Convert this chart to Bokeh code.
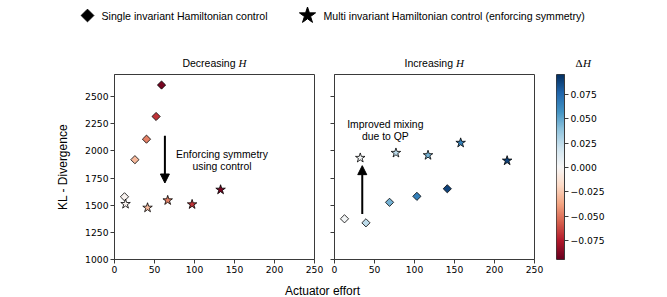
import numpy as np
from bokeh.plotting import figure
from bokeh.models import (Range1d, LinearColorMapper, FixedTicker, CustomJSTickFormatter,
                          Arrow, NormalHead, ColumnDataSource)
from bokeh.layouts import column, row
from bokeh.transform import transform
from bokeh.core.properties import value
from bokeh.embed import file_html
from bokeh.resources import INLINE

# ---------------- data ----------------
# Decreasing H panel
dec_single_effort = [12.5, 25.5, 40.0, 52.0, 58.8]
dec_single_kl = [1578, 1920, 2109, 2318, 2608]
dec_multi_effort = [13.8, 41.3, 66.5, 97.0, 132.6]
dec_multi_kl = [1511, 1477, 1545, 1508, 1643]
dec_dH = [-0.003, -0.030, -0.047, -0.068, -0.090]

# Increasing H panel
inc_single_effort = [12.5, 39.3, 68.8, 103.0, 141.0]
inc_single_kl = [1375, 1338, 1527, 1582, 1652]
inc_multi_effort = [32.2, 76.8, 116.9, 157.7, 215.8]
inc_multi_kl = [1936, 1982, 1961, 2075, 1911]
inc_dH = [0.003, 0.025, 0.045, 0.065, 0.088]

x_ticks = [0, 50, 100, 150, 200, 250]
y_ticks = [1000, 1250, 1500, 1750, 2000, 2250, 2500]
cbar_ticks = [-0.075, -0.050, -0.025, 0.0, 0.025, 0.050, 0.075]
X_RANGE = (0, 250)
Y_RANGE = (1000, 2705)
DH_RANGE = (-0.094, 0.095)

legend_labels = ["Single invariant Hamiltonian control",
                 "Multi invariant Hamiltonian control (enforcing symmetry)"]
x_label = "Actuator effort"
y_label = "KL - Divergence"

# annotation anchors (data coordinates)
dec_arrow = dict(x=63.0, y_start=2140, y_end=1705)
inc_arrow = dict(x=34.7, y_start=1419, y_end=1865)
dec_note = dict(x=134.4, lines=["Enforcing symmetry", "using control"], y=[1970, 1856])
inc_note = dict(x=63.5, lines=["Improved mixing", "due to QP"], y=[2248, 2133])

# ---------------- styling ----------------
RDBU = ['#67001f', '#b2182b', '#d6604d', '#f4a582', '#fddbc7', '#f7f7f7',
        '#d1e5f0', '#92c5de', '#4393c3', '#2166ac', '#053061']


def smooth_palette(colors, n=256):
    rgb = np.array([[int(c[i:i + 2], 16) for i in (1, 3, 5)] for c in colors], float)
    t = np.linspace(0, 1, len(colors))
    tt = np.linspace(0, 1, n)
    out = []
    for v in tt:
        r, g, b = (np.interp(v, t, rgb[:, k]) for k in range(3))
        out.append("#%02x%02x%02x" % (int(round(r)), int(round(g)), int(round(b))))
    return out


mapper = LinearColorMapper(palette=smooth_palette(RDBU), low=DH_RANGE[0], high=DH_RANGE[1])

SPINE = "#3a3a3a"
SANS = "Liberation Sans"
SERIF = "Liberation Serif"
TICK_FONT = "DejaVu Sans"
TICK_SIZE = "9.2px"


def style_axis(ax):
    ax.axis_line_color = SPINE
    ax.axis_line_width = 1
    ax.major_tick_line_color = SPINE
    ax.minor_tick_line_color = None
    ax.major_tick_out = 4
    ax.major_tick_in = 0
    ax.major_label_text_font = TICK_FONT
    ax.major_label_text_font_size = TICK_SIZE
    ax.major_label_text_color = "black"
    ax.major_label_standoff = 2


def panel(width, left, right, single_x, single_y, multi_x, multi_y, dH, show_labels):
    p = figure(width=width, height=206, x_range=Range1d(*X_RANGE), y_range=Range1d(*Y_RANGE),
               output_backend="svg", toolbar_location=None,
               min_border_left=left, min_border_right=right, min_border_top=4, min_border_bottom=17)
    p.grid.visible = False
    p.outline_line_color = SPINE
    p.outline_line_width = 1
    p.background_fill_color = "white"
    p.border_fill_color = "white"
    for ax in (p.xaxis[0], p.yaxis[0]):
        style_axis(ax)
    p.xaxis.ticker = FixedTicker(ticks=x_ticks)
    p.yaxis.ticker = FixedTicker(ticks=y_ticks)
    if show_labels:
        p.yaxis.axis_label = y_label
        p.yaxis.axis_label_text_font = SANS
        p.yaxis.axis_label_text_font_size = "12px"
        p.yaxis.axis_label_text_font_style = "normal"
        p.yaxis.axis_label_text_color = "black"
        p.yaxis.axis_label_standoff = 12
    else:
        p.yaxis.formatter = CustomJSTickFormatter(code="return '';")
    s1 = ColumnDataSource(dict(x=single_x, y=single_y, dh=dH))
    s2 = ColumnDataSource(dict(x=multi_x, y=multi_y, dh=dH))
    p.scatter("x", "y", source=s1, marker="square", angle=np.pi / 4, size=5.8,
              fill_color=transform("dh", mapper), line_color="black", line_width=0.8)
    p.scatter("x", "y", source=s2, marker="star", size=10,
              fill_color=transform("dh", mapper), line_color="black", line_width=0.8)
    return p


figA = panel(324, 114, 10, dec_single_effort, dec_single_kl, dec_multi_effort, dec_multi_kl, dec_dH, True)
figB = panel(221, 10, 11, inc_single_effort, inc_single_kl, inc_multi_effort, inc_multi_kl, inc_dH, False)

for p, arr, note in ((figA, dec_arrow, dec_note), (figB, inc_arrow, inc_note)):
    p.add_layout(Arrow(end=NormalHead(size=9, fill_color="black", line_color="black", line_width=1),
                       x_start=arr["x"], y_start=arr["y_start"], x_end=arr["x"], y_end=arr["y_end"],
                       line_width=2, line_color="black"))
    p.text(x=[note["x"]] * len(note["lines"]), y=note["y"], text=note["lines"],
           text_font=value(SANS), text_font_size="10.4px", text_align="center",
           text_baseline="middle", text_color="black")

# colorbar panel
figC = figure(width=122, height=206, x_range=Range1d(0, 1), y_range=Range1d(*DH_RANGE),
              output_backend="svg", toolbar_location=None, x_axis_type=None, y_axis_location="right",
              min_border_left=11, min_border_right=103, min_border_top=4, min_border_bottom=17)
figC.grid.visible = False
figC.outline_line_color = SPINE
figC.outline_line_width = 1
grad = np.linspace(DH_RANGE[0], DH_RANGE[1], 256).reshape(-1, 1)
figC.image(image=[grad], x=0, y=DH_RANGE[0], dw=1, dh=DH_RANGE[1] - DH_RANGE[0], color_mapper=mapper)
style_axis(figC.yaxis[0])
figC.yaxis.ticker = FixedTicker(ticks=cbar_ticks)
figC.yaxis.formatter = CustomJSTickFormatter(code="return tick.toFixed(3).replace('-', '\u2212');")

# header: legend, panel titles, colorbar title
head = figure(width=667, height=70, x_range=Range1d(0, 667), y_range=Range1d(70, 0),
              output_backend="svg", toolbar_location=None, x_axis_type=None, y_axis_type=None,
              min_border=0)
head.grid.visible = False
head.outline_line_color = None
head.scatter(x=[87], y=[15], marker="square", angle=np.pi / 4, size=9, color="black")
head.scatter(x=[307], y=[15], marker="star", size=17, color="black")
head.text(x=[101, 323], y=[15, 15], text=legend_labels, text_font=value(SANS),
          text_font_size="10.6px", text_baseline="middle", text_align="left", text_color="black")
# panel titles: "Decreasing H" / "Increasing H" with italic H
head.text(x=[235, 452.5], y=[62, 62], text=["Decreasing", "Increasing"], text_font=value(SANS),
          text_font_size="10.5px", text_baseline="middle", text_align="right", text_color="black")
head.text(x=[238, 455.5], y=[62, 62], text=["H", "H"], text_font=value(SERIF),
          text_font_style="italic", text_font_size="11px", text_baseline="middle",
          text_align="left", text_color="black")
head.text(x=[575], y=[62], text=["\u0394"], text_font=value(SERIF), text_font_size="11px",
          text_baseline="middle", text_align="left", text_color="black")
head.text(x=[582.5], y=[62], text=["H"], text_font=value(SERIF), text_font_style="italic",
          text_font_size="11px", text_baseline="middle", text_align="left", text_color="black")

# footer: shared x label
foot = figure(width=667, height=21, x_range=Range1d(0, 667), y_range=Range1d(21, 0),
              output_backend="svg", toolbar_location=None, x_axis_type=None, y_axis_type=None,
              min_border=0)
foot.grid.visible = False
foot.outline_line_color = None
foot.text(x=[322], y=[14], text=[x_label], text_font=value(SANS), text_font_size="12px",
          text_baseline="middle", text_align="center", text_color="black")

layout = column(head, row(figA, figB, figC), foot)

with open("out.html", "w") as f:
    f.write(file_html(layout, INLINE))
